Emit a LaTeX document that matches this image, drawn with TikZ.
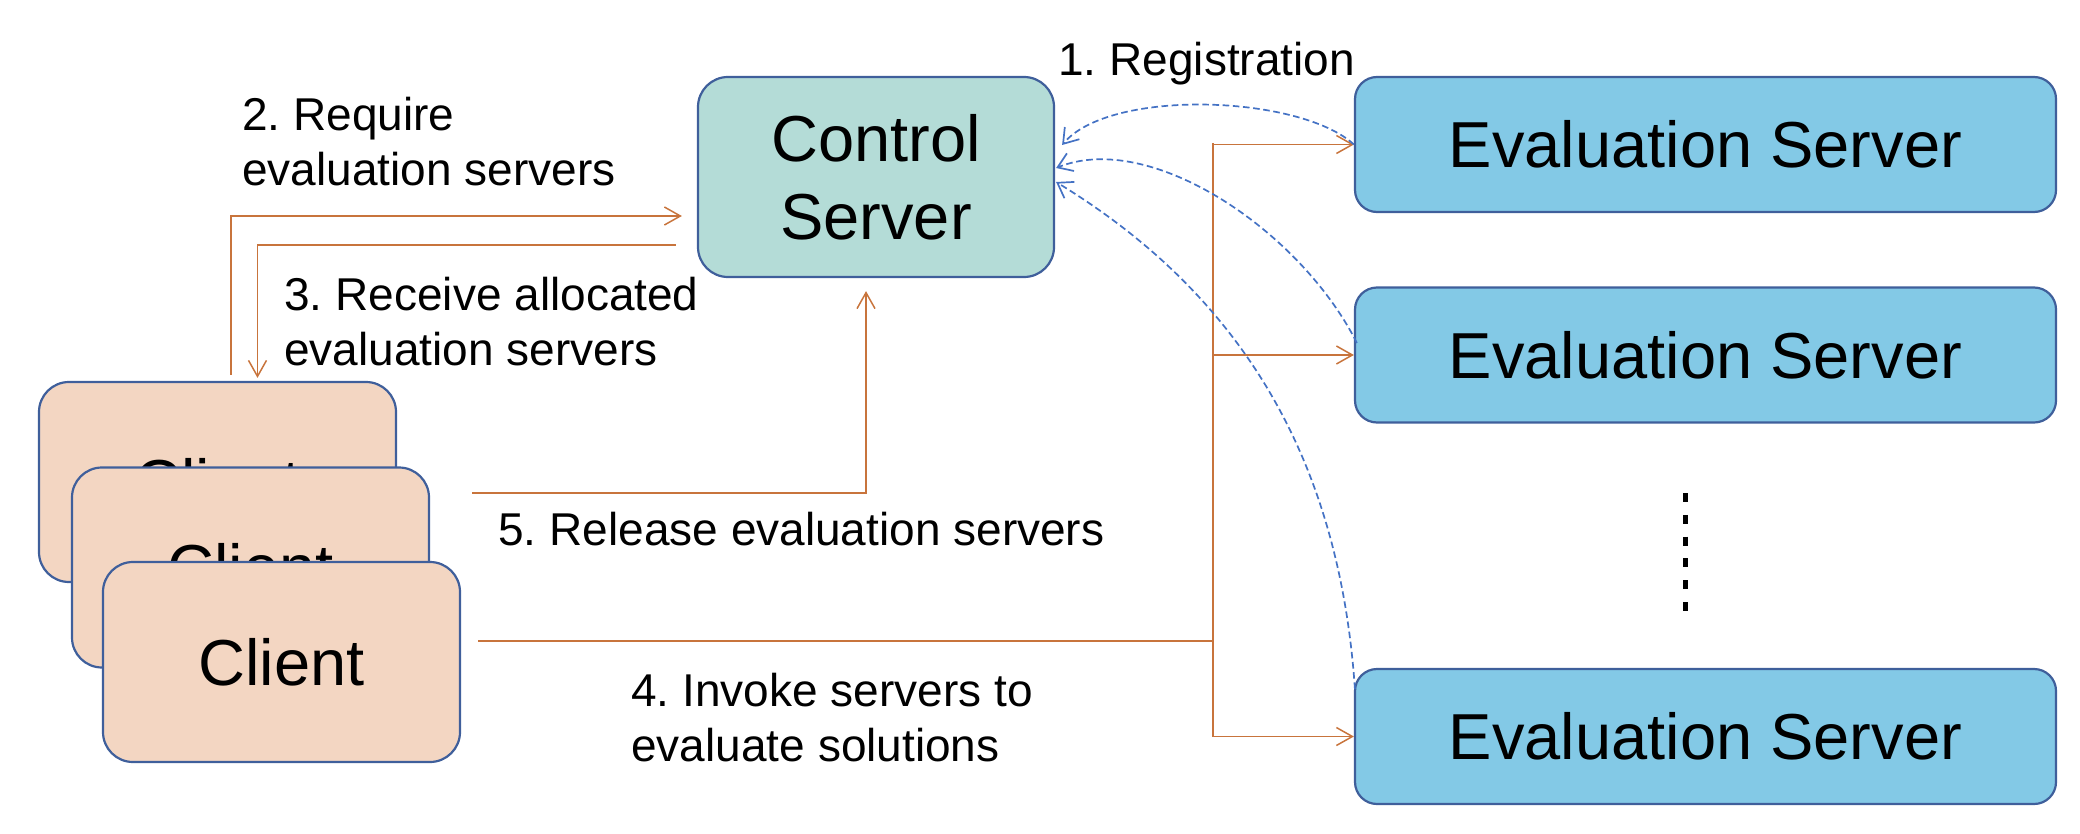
\documentclass[tikz,border=0pt]{standalone}
\usepackage{fontspec}
\setmainfont{Liberation Sans}
\usetikzlibrary{arrows.meta}
\frenchspacing
\definecolor{ctrlfill}{HTML}{B4DCD7}
\definecolor{evalfill}{HTML}{83C9E6}
\definecolor{clientfill}{HTML}{F3D6C2}
\definecolor{boxline}{HTML}{3F5F9B}
\definecolor{flow}{HTML}{C8743C}
\definecolor{reg}{HTML}{4472C4}
\begin{document}
\begin{tikzpicture}[x=0.5pt,y=-0.5pt,
 box/.style={draw=boxline,line width=1.1pt,inner sep=0pt,align=center,font=\fontsize{32.5}{39}\selectfont},
 ctrl/.style={box,fill=ctrlfill,minimum width=178pt,minimum height=100pt,rounded corners=15pt},
 evalbox/.style={box,fill=evalfill,minimum width=350.5pt,minimum height=67.5pt,rounded corners=11pt},
 client/.style={box,fill=clientfill,minimum width=178.5pt,minimum height=100pt,rounded corners=15pt},
 lbl/.style={anchor=west,inner sep=0pt,align=left,font=\fontsize{23}{27.5}\selectfont},
 flowarr/.style={draw=flow,line width=0.75pt,-{Straight Barb[length=8pt,width=9pt]}},
 flowline/.style={draw=flow,line width=0.75pt},
 regarr/.style={draw=reg,line width=0.85pt,dash pattern=on 3.3pt off 1.8pt,-{Straight Barb[length=7pt,width=9.5pt]}},
]
\useasboundingbox (0,0) rectangle (2080,834);

% clients
\node[client] (c1) at (217.5,482) {Client};
\node[client] (c2) at (250.5,567.5) {Client};
\node[client] (c3) at (281.5,662) {Client};

% control server
\node[ctrl] (cs) at (876,177) {Control\\Server};

% evaluation servers
\node[evalbox] (e1) at (1705.5,144.5) {Evaluation Server};
\node[evalbox] (e2) at (1705.5,355) {Evaluation Server};
\node[evalbox] (e3) at (1705.5,736.5) {Evaluation Server};

% vertical dots
\draw[line width=2.5pt,dash pattern=on 4.5pt off 6.4pt] (1685,493) -- (1685,612);

% labels
\node[lbl] (l1) at (1058,64) {1. Registration};
\node[lbl] (l2) at (242,141.7) {2. Require\\evaluation servers};
\node[lbl] (l3) at (284,321.7) {3. Receive allocated\\evaluation servers};
\node[lbl] (l5) at (498,529) {5. Release evaluation servers};
\node[lbl] (l4) at (631,717.7) {4. Invoke servers to\\evaluate solutions};

% 2. require
\draw[flowarr] ([shift={(6.75pt,3pt)}]c1.north) |- ([shift={(-7.5pt,-19.5pt)}]cs.west);
% 3. receive
\draw[flowarr] ([shift={(-10.5pt,-34pt)}]cs.west) -| ([shift={(20pt,1.5pt)}]c1.north);
% 5. release
\coordinate (r5) at (472,493);
\draw[flowarr] (r5) -| ([shift={(-5pt,-6.5pt)}]cs.south);
% 4. invoke
\coordinate (r4) at (478,641);
\coordinate (bt) at (1213,143);
\coordinate (bb) at (1213,736.5);
\draw[flowline] (r4) -- (r4 -| bt);
\draw[flowline] (bt) -- (bb);
\draw[flowarr] (bt |- e1.west) -- (e1.west);
\draw[flowarr] (bt |- e2.west) -- (e2.west);
\draw[flowarr] (bb) -- (e3.west);

% 1. registration
\draw[regarr] (e1.west) .. controls (1300,95) and (1110,88) .. ([shift={(3.5pt,16pt)}]cs.east);
\draw[regarr] ([shift={(1.5pt,6pt)}]e2.west) .. controls (1300,230) and (1150,130) .. ([shift={(0.5pt,4.5pt)}]cs.east);
\draw[regarr] ([shift={(0.5pt,-10.5pt)}]e3.north west) .. controls (1340,470) and (1250,300) .. ([shift={(0.5pt,-2.5pt)}]cs.east);
\end{tikzpicture}
\end{document}
